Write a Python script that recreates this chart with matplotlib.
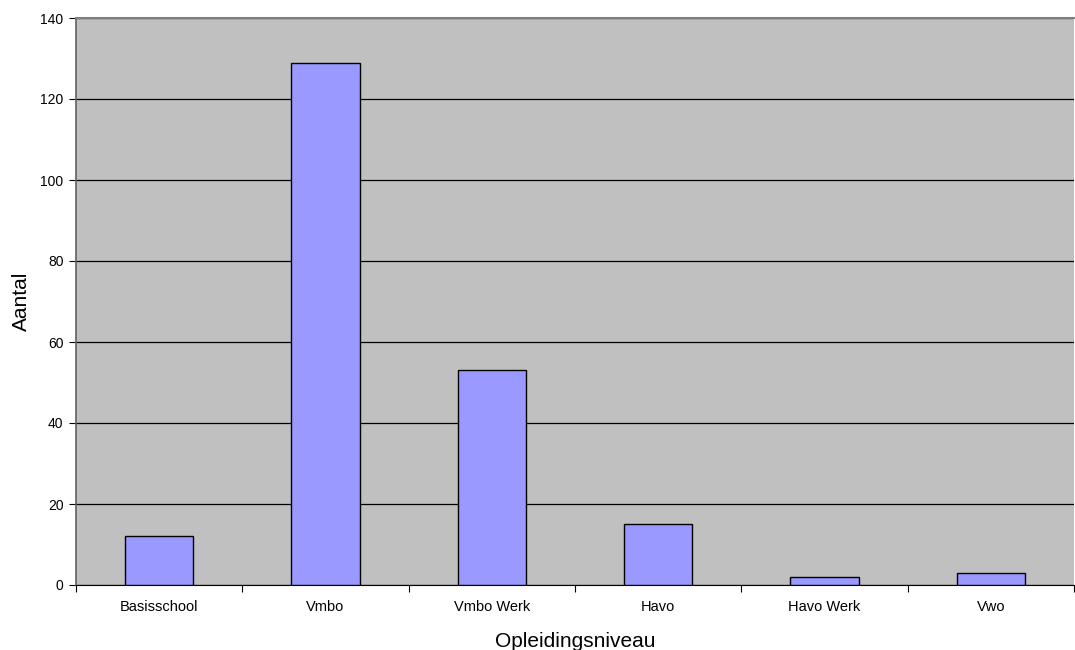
import numpy as np
import matplotlib.pyplot as plt
from matplotlib.ticker import FixedLocator, MultipleLocator

plt.rcParams['font.family'] = ['Liberation Sans', 'DejaVu Sans']

categories = ["Basisschool", "Vmbo", "Vmbo Werk", "Havo", "Havo Werk", "Vwo"]
counts = [12, 129, 53, 15, 2, 3]

fig = plt.figure(figsize=(10.75, 6.5), dpi=100)
ax = fig.add_axes([76 / 1075, 65 / 650, 998 / 1075, 567 / 650])
ax.set_facecolor("#c0c0c0")

x = np.arange(len(categories))
ax.bar(x, counts, width=0.41, color="#9999ff", edgecolor="black",
       linewidth=1.0, zorder=3)

ax.set_xlim(-0.5, len(categories) - 0.5)
ax.set_ylim(0, 140)
ax.yaxis.set_major_locator(MultipleLocator(20))
ax.grid(axis="y", color="black", linewidth=0.9, zorder=1)
ax.set_axisbelow(True)

ax.set_xticks(x)
ax.set_xticklabels(categories, fontsize=10.5)
ax.tick_params(axis="x", which="major", length=0, pad=11)
ax.xaxis.set_minor_locator(FixedLocator(np.arange(-0.5, len(categories), 1.0)))
ax.tick_params(axis="x", which="minor", length=5, direction="out", width=0.8)
ax.tick_params(axis="y", length=5, direction="out", width=0.8, labelsize=10, pad=4)

ax.spines["top"].set_color("#808080")
ax.spines["top"].set_linewidth(1.5)
ax.spines["left"].set_color("#606060")
ax.spines["left"].set_linewidth(1.2)
ax.spines["right"].set_visible(False)
ax.spines["bottom"].set_color("black")

ax.set_xlabel("Opleidingsniveau", fontsize=15, labelpad=13)
ax.set_ylabel("Aantal", fontsize=15, labelpad=7)

fig.savefig("out.png", dpi=100, facecolor="white")
